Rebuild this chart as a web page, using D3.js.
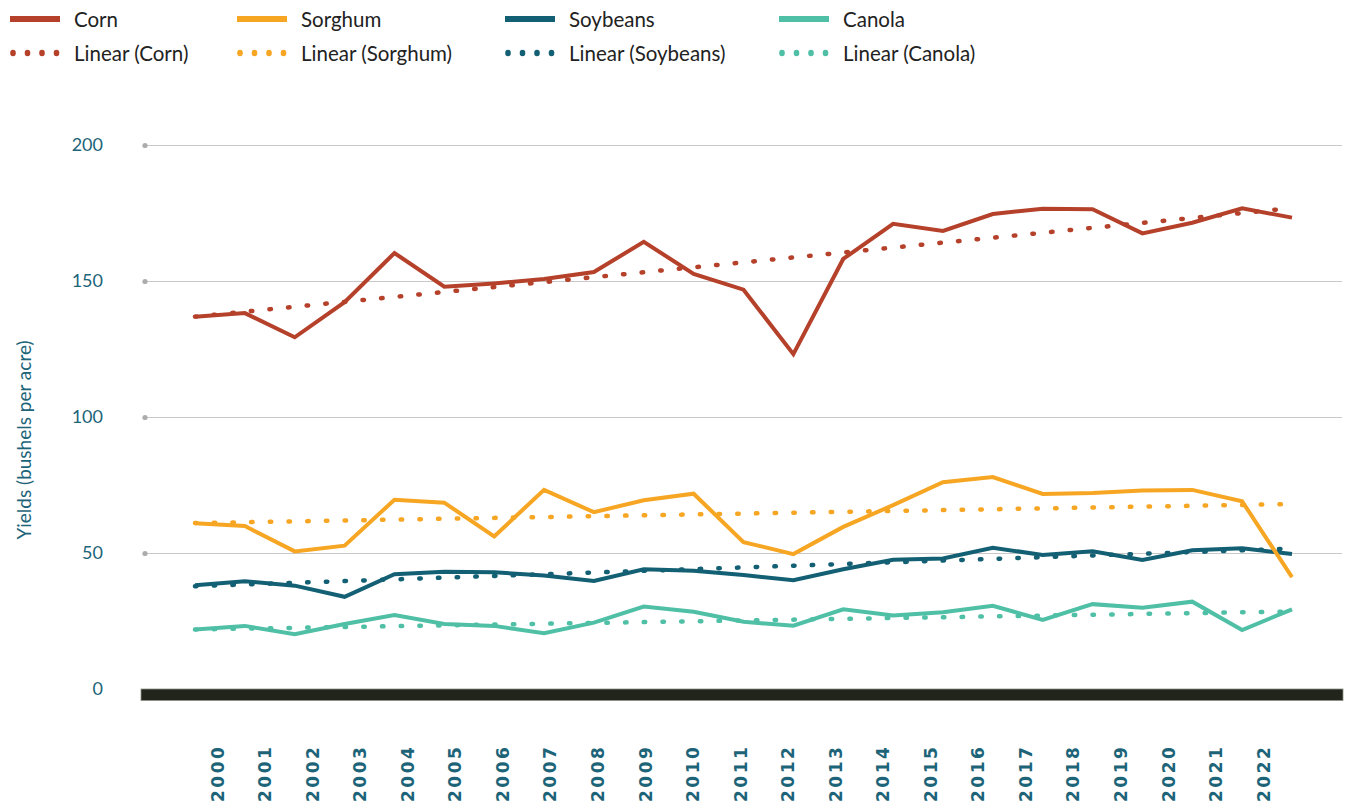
<!DOCTYPE html>
<html>
<head>
<meta charset="utf-8">
<script src="https://cdn.jsdelivr.net/npm/d3@7"></script>
<style>
  html, body { margin: 0; padding: 0; background: #ffffff; }
  svg { display: block; }
</style>
</head>
<body>
<svg id="chart" width="1345" height="805"></svg>
<script>
// ---- DATA ----
const years = ["2000","2001","2002","2003","2004","2005","2006","2007","2008","2009","2010","2011",
               "2012","2013","2014","2015","2016","2017","2018","2019","2020","2021","2022"];
const corn     = [136.9,138.2,129.3,142.2,160.3,147.9,149.1,150.7,153.3,164.4,152.6,146.8,
                  123.1,158.1,171.0,168.4,174.6,176.6,176.4,167.5,171.4,176.7,173.3];
const sorghum  = [60.9,59.9,50.6,52.7,69.6,68.5,56.1,73.2,65.0,69.4,71.8,54.0,
                  49.6,59.6,67.6,76.0,77.9,71.7,72.1,73.0,73.2,69.0,41.1];
const soybeans = [38.1,39.6,38.0,33.9,42.2,43.1,42.9,41.7,39.7,44.0,43.5,41.9,
                  40.0,44.0,47.5,48.0,51.9,49.3,50.6,47.4,51.0,51.7,49.6];
const canola   = [21.9,23.2,20.1,23.9,27.2,23.9,23.2,20.5,24.4,30.3,28.4,24.7,
                  23.3,29.3,27.0,28.2,30.6,25.4,31.2,29.9,32.1,21.7,29.3];
// Linear trend lines (value at first year, value at last year)
const trendCorn     = [136.9, 176.8];
const trendSorghum  = [61.0, 68.0];
const trendSoybeans = [37.8, 51.6];
const trendCanola   = [21.9, 28.5];
const yTicks = [0, 50, 100, 150, 200];
const seriesNames = ["Corn","Sorghum","Soybeans","Canola"];
const trendNames = ["Linear (Corn)","Linear (Sorghum)","Linear (Soybeans)","Linear (Canola)"];
const colors = ["#b5412b","#f6a623","#135f73","#4fbfa6"];
const yTitle = "Yields (bushels per acre)";

// ---- CHART ----
const svg = d3.select("#chart");
const x = d3.scalePoint().domain(years).range([195, 1292]);
const xLab = d3.scalePoint().domain(years).range([217, 1263]);
const y = d3.scaleLinear().domain([0, 200]).range([689, 145]);
const teal = "#1d6479";
const font = "Lato, 'Noto Sans', sans-serif";

// grid + y labels
const gAxis = svg.append("g").attr("transform", "translate(145,0)")
  .call(d3.axisLeft(y).tickValues(yTicks).tickSize(-(1342 - 145)).tickPadding(42).tickFormat(d3.format("d")));
gAxis.select(".domain").remove();
gAxis.selectAll(".tick line").attr("stroke", "#c9c9c9").attr("stroke-width", 1.2);
gAxis.selectAll(".tick text").attr("fill", teal).attr("font-size", 18).attr("font-family", font);
gAxis.selectAll(".tick").filter(d => d !== 0).append("circle").attr("r", 2.6).attr("fill", "#adadad");

// y title
svg.append("text")
  .attr("transform", "translate(23,440) rotate(-90)")
  .attr("text-anchor", "middle").attr("dominant-baseline", "central")
  .attr("fill", teal).attr("font-size", 19).attr("font-family", font)
  .text(yTitle);

// baseline bar
svg.append("rect").attr("x", 141).attr("y", y(0)).attr("width", 1202).attr("height", 11.5)
  .attr("fill", "#22251b").attr("stroke", "#8d8f86").attr("stroke-width", 0.8);

// x labels
const gX = svg.append("g").attr("transform", "translate(0,802)")
  .call(d3.axisBottom(xLab).tickSize(0).tickPadding(0));
gX.select(".domain").remove();
gX.selectAll(".tick text")
  .attr("transform", "rotate(-90)")
  .attr("x", 0).attr("y", 0).attr("dy", "0.36em")
  .attr("text-anchor", "start")
  .attr("fill", teal).attr("font-size", 17).attr("font-weight", 800)
  .attr("letter-spacing", "2.5px")
  .attr("font-family", "'DejaVu Sans', sans-serif");

// lines
const allSeries = [corn, sorghum, soybeans, canola];
const allTrends = [trendCorn, trendSorghum, trendSoybeans, trendCanola];
const line = d3.line().x((d, i) => x(years[i])).y(d => y(d));
const drawOrder = [3, 2, 1, 0];
drawOrder.forEach(k => {
  svg.append("path").datum(allSeries[k])
    .attr("d", line).attr("fill", "none")
    .attr("stroke", colors[k]).attr("stroke-width", 4)
    .attr("stroke-linejoin", "miter");
});
drawOrder.forEach(k => {
  const t = allTrends[k];
  svg.append("line")
    .attr("x1", x(years[0])).attr("y1", y(t[0]))
    .attr("x2", x(years[years.length - 1])).attr("y2", y(t[1]))
    .attr("stroke", colors[k]).attr("stroke-width", 4.5)
    .attr("stroke-linecap", "round").attr("stroke-dasharray", "1.5,17.2");
});

// legend
const legX = [10, 237, 505, 779];
seriesNames.forEach((name, k) => {
  const g = svg.append("g").attr("transform", `translate(${legX[k]},0)`);
  g.append("rect").attr("x", 0).attr("y", 16).attr("width", 50).attr("height", 6).attr("fill", colors[k]);
  g.append("text").attr("x", 64).attr("y", 19).attr("dominant-baseline", "central")
    .attr("fill", "#222").attr("font-size", 20.5).attr("font-family", font).text(name);
  [3, 17.5, 32, 46.5].forEach(dx => {
    g.append("ellipse").attr("cx", dx).attr("cy", 53).attr("rx", 2.8).attr("ry", 3.2).attr("fill", colors[k]);
  });
  g.append("text").attr("x", 64).attr("y", 53).attr("dominant-baseline", "central")
    .attr("fill", "#222").attr("font-size", 20.5).attr("font-family", font).text(trendNames[k]);
});
</script>
</body>
</html>
